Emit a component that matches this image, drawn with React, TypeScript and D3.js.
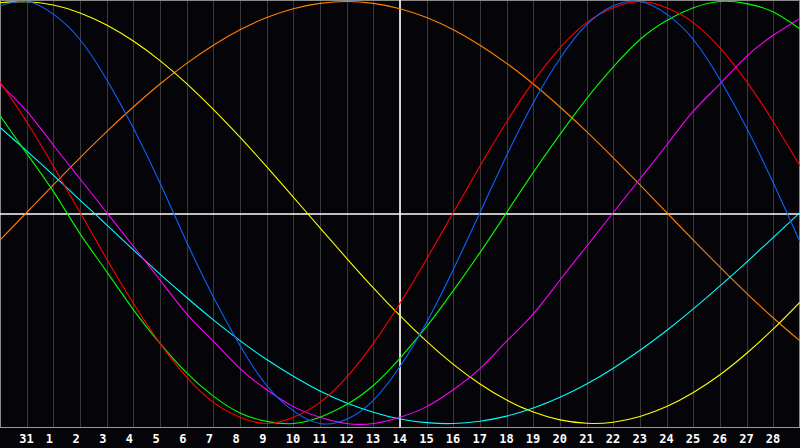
import React from "react";
import * as d3 from "d3";

const W = 800;
const H = 448;

// day labels at grid lines 1..29 (grid 0 = Jan 30, grid 30 = Mar 1)
const dayLabels = ["31", "1", "2", "3", "4", "5", "6", "7", "8", "9", "10", "11", "12", "13", "14", "15", "16", "17", "18", "19", "20", "21", "22", "23", "24", "25", "26", "27", "28"];
const todayIndex = 15;

// values per day (31 samples, grid 0..30), range -1..1
const physical = [0.98, 1.0, 0.94, 0.82, 0.63, 0.4, 0.14, -0.14, -0.4, -0.63, -0.82, -0.94, -1.0, -0.98, -0.89, -0.73, -0.52, -0.27, 0, 0.27, 0.52, 0.73, 0.89, 0.98, 1.0, 0.94, 0.82, 0.63, 0.4, 0.14, -0.14];
const emotional = [0.62, 0.43, 0.22, 0, -0.22, -0.43, -0.62, -0.78, -0.9, -0.97, -1.0, -0.97, -0.9, -0.78, -0.62, -0.43, -0.22, 0, 0.22, 0.43, 0.62, 0.78, 0.9, 0.97, 1.0, 0.97, 0.9, 0.78, 0.62, 0.43, 0.22];
const intellectual = [0.46, 0.28, 0.1, -0.1, -0.28, -0.46, -0.62, -0.76, -0.87, -0.95, -0.99, -1.0, -0.97, -0.91, -0.82, -0.69, -0.54, -0.37, -0.19, 0, 0.19, 0.37, 0.54, 0.69, 0.82, 0.91, 0.97, 1.0, 0.99, 0.95, 0.87];
const intuitive = [0.61, 0.48, 0.32, 0.16, 0, -0.16, -0.32, -0.48, -0.61, -0.74, -0.84, -0.92, -0.97, -1.0, -1.0, -0.97, -0.92, -0.84, -0.74, -0.61, -0.48, -0.32, -0.16, 0, 0.16, 0.32, 0.48, 0.61, 0.74, 0.84, 0.92];
const aesthetic = [0.994, 0.999, 0.983, 0.946, 0.889, 0.813, 0.72, 0.611, 0.489, 0.357, 0.217, 0.073, -0.073, -0.217, -0.357, -0.489, -0.611, -0.72, -0.813, -0.889, -0.946, -0.983, -0.999, -0.994, -0.967, -0.92, -0.853, -0.769, -0.667, -0.552, -0.425];
const awareness = [-0.131, 0, 0.131, 0.259, 0.383, 0.5, 0.609, 0.707, 0.793, 0.866, 0.924, 0.966, 0.991, 1.0, 0.991, 0.966, 0.924, 0.866, 0.793, 0.707, 0.609, 0.5, 0.383, 0.259, 0.131, 0, -0.131, -0.259, -0.383, -0.5, -0.609];
const spiritual = [0.403, 0.292, 0.177, 0.059, -0.059, -0.177, -0.292, -0.403, -0.509, -0.607, -0.697, -0.776, -0.846, -0.903, -0.947, -0.979, -0.996, -1.0, -0.989, -0.965, -0.927, -0.876, -0.813, -0.738, -0.653, -0.559, -0.457, -0.348, -0.235, -0.118, 0];

const seriesNames = ["awareness", "aesthetic", "spiritual", "intuitive", "intellectual", "emotional", "physical"];
const seriesValues = [awareness, aesthetic, spiritual, intuitive, intellectual, emotional, physical];
const seriesColors = ["#ff8000", "#ffff00", "#00ffff", "#ff00ff", "#00ff00", "#ff0000", "#0a64ff"];

export default function App() {
  const x = d3.scaleLinear().domain([0, 30]).range([0, W]);
  const y = d3.scaleLinear().domain([-1, 1]).range([423.5, 1.5]);
  const axisY = 427.5;
  const line = d3
    .line<number>()
    .x((_, i) => x(i))
    .y((d) => y(d))
    .curve(d3.curveNatural);

  return (
    <svg
      width={W}
      height={H}
      style={{ position: "fixed", left: 0, top: 0, display: "block", background: "#050408" }}
    >
      <rect x={0} y={0} width={W} height={H} fill="#050408" />
      {dayLabels.map((_, i) => (
        <line
          key={"g" + i}
          x1={Math.round(x(i + 1)) + 0.5}
          x2={Math.round(x(i + 1)) + 0.5}
          y1={0}
          y2={axisY}
          stroke="#3a3a3a"
          strokeWidth={1}
        />
      ))}
      <line x1={0.5} x2={0.5} y1={0} y2={axisY} stroke="#8a8a8a" />
      <line x1={W - 0.5} x2={W - 0.5} y1={0} y2={axisY} stroke="#8a8a8a" />
      <line x1={0} x2={W} y1={0.5} y2={0.5} stroke="#8a8a8a" />
      <line x1={0} x2={W} y1={axisY} y2={axisY} stroke="#9a9a9a" />
      <line x1={0} x2={W} y1={214} y2={214} stroke="#ffffff" strokeWidth={1.6} />
      <line x1={x(todayIndex)} x2={x(todayIndex)} y1={0} y2={axisY} stroke="#ffffff" strokeWidth={1.6} />
      {seriesValues.map((vals, s) => (
        <path
          key={seriesNames[s]}
          d={line(vals) || ""}
          fill="none"
          stroke={seriesColors[s]}
          strokeWidth={1.1}
        />
      ))}
      {dayLabels.map((lab, i) => (
        <text
          key={"t" + i}
          x={x(i + 1) - 7.5}
          y={443}
          fill="#ffffff"
          fontFamily="'DejaVu Sans Mono', monospace"
          fontWeight="bold"
          fontSize={12}
          textAnchor="start"
        >
          {lab}
        </text>
      ))}
    </svg>
  );
}
